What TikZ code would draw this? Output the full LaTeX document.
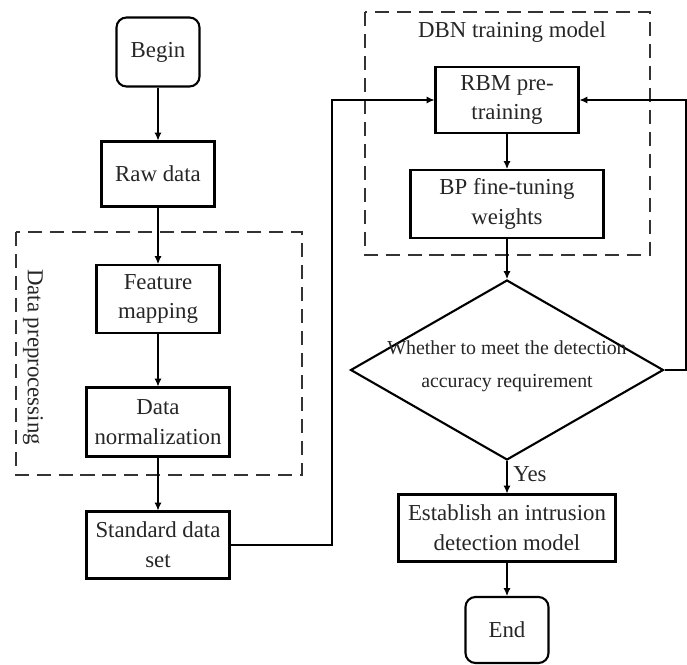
\documentclass[tikz,border=0pt]{standalone}
\usepackage{fontspec}
\setmainfont{Liberation Serif}
\usetikzlibrary{shapes.geometric,arrows.meta}

\begin{document}
\begin{tikzpicture}[x=0.02cm,y=-0.02cm,
  box/.style={draw,line width=1.2pt,align=center,inner sep=0pt,text=black!85,font=\fontsize{13}{17}\selectfont},
  term/.style={box,rounded corners=0.2cm},
  line/.style={line width=0.6pt},
  arr/.style={line,-{Latex[length=4.5pt,width=4pt]}},
  group/.style={line width=1.5pt,dash pattern=on 8pt off 4.5pt,black!80}]
\useasboundingbox (0,0) rectangle (687,665);
\draw[group] (16,232) rectangle (302,475);
\draw[group] (365,12) rectangle (650,255);
\node[rotate=-90,text=black!85,font=\fontsize{13}{17}\selectfont] (prelabel) at (33,357) {Data preprocessing};
\node[text=black!85,font=\fontsize{13}{17}\selectfont] (dbnlabel) at (512,32) {DBN training model};
\node[term,minimum width=1.66cm,minimum height=1.38cm] (begin) at (158,52) {Begin};
\node[box,minimum width=2.26cm,minimum height=1.3cm] (raw) at (158,174) {Raw data};
\node[box,minimum width=2.46cm,minimum height=1.36cm] (feat) at (158,299) {Feature\\mapping};
\node[box,minimum width=2.86cm,minimum height=1.38cm] (norm) at (158,422) {Data\\normalization};
\node[box,minimum width=2.86cm,minimum height=1.34cm] (std) at (158,545) {Standard data\\set};
\node[box,minimum width=2.86cm,minimum height=1.32cm] (rbm) at (507,100) {RBM pre-\\training};
\node[box,minimum width=3.86cm,minimum height=1.36cm] (bp) at (507,204) {BP fine-tuning\\weights};
\node[diamond,draw,line width=1.2pt,inner sep=0pt,minimum width=6.26cm,minimum height=3.6cm] (judge) at (507,370) {};
\node[align=center,text=black!85,font=\fontsize{11.3}{19}\selectfont] (judgetext) at (507,366) {Whether to meet the detection\\accuracy requirement};
\node[box,minimum width=4.34cm,minimum height=1.34cm] (est) at (507,528) {Establish an intrusion\\detection model};
\node[term,minimum width=1.66cm,minimum height=1.32cm] (end) at (507,630) {End};
\coordinate (leftrail) at (332,300);
\coordinate (rightrail) at (686,370);
\draw[arr] (begin) -- (raw);
\draw[arr] (raw) -- (feat);
\draw[arr] (feat) -- (norm);
\draw[arr] (norm) -- (std);
\draw[arr] (std.east) -| (leftrail) |- (rbm.west);
\draw[arr] (rbm) -- (bp);
\draw[arr] (bp) -- (judge.north);
\draw[arr] (judge.south) -- node[right,text=black!85,font=\fontsize{13}{17}\selectfont,yshift=2pt] (yes) {Yes} (est);
\draw[arr] (est) -- (end);
\draw[arr] (judge.east) -- (rightrail) |- (rbm.east);
\end{tikzpicture}
\end{document}
